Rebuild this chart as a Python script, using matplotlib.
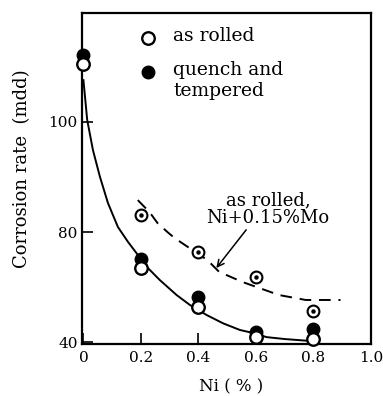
import numpy as np
import matplotlib
matplotlib.use('Agg')
import matplotlib.pyplot as plt

# ---- data ----
ni = [0.0, 0.2, 0.4, 0.6, 0.8]
as_rolled = [110.5, 66.9, 52.7, 41.8, 41.0]
quench_tempered = [112.2, 70.2, 56.4, 43.6, 44.7]
ni_mo = [0.2, 0.4, 0.6, 0.8]
as_rolled_mo = [83.1, 72.7, 63.6, 51.3]

fit_x = [0.0, 0.013, 0.033, 0.057, 0.085, 0.120, 0.155, 0.184, 0.214,
         0.266, 0.324, 0.370, 0.429, 0.486, 0.544, 0.590, 0.637, 0.700,
         0.776, 0.800]
fit_y = [107.6, 100.4, 94.9, 90.1, 85.3, 80.9, 76.4, 72.4, 68.0,
         62.5, 57.1, 53.5, 49.8, 46.8, 44.4, 43.3, 41.8, 41.1,
         40.5, 40.3]
mo_fit_x = [0.189, 0.230, 0.258, 0.292, 0.317, 0.431, 0.472, 0.554,
            0.680, 0.773, 0.894]
mo_fit_y = [85.8, 83.6, 81.6, 80.0, 77.8, 69.8, 65.5, 61.8,
            57.1, 55.3, 55.3]

xticks = [0, 0.2, 0.4, 0.6, 0.8, 1.0]
xticklabels = ['0', '0.2', '0.4', '0.6', '0.8', '1.0']
yticks = [40, 80, 100]
yticklabels = ['40', '80', '100']

legend_labels = ['as rolled', 'quench and', 'tempered']
note_lines = ['as rolled,', 'Ni+0.15%Mo']


# the printed axis is compressed below 80
def fwd(v):
    v = np.asarray(v, float)
    return np.where(v >= 80, v, 80 - (80 - v) / 2.0)


def inv(u):
    u = np.asarray(u, float)
    return np.where(u >= 80, u, 80 - (80 - u) * 2.0)


plt.rcParams['font.family'] = ['DejaVu Serif']
fig = plt.figure(figsize=(3.83, 3.96), dpi=100)
ax = fig.add_axes([82 / 383, 52 / 396, 289 / 383, 331 / 396])
ax.set_yscale('function', functions=(fwd, inv))
ax.set_xlim(-0.005, 1.0)
ax.set_ylim(39.3, 119.8)

for s in ax.spines.values():
    s.set_linewidth(1.6)

ax.set_xticks(xticks)
ax.set_xticklabels(xticklabels)
ax.set_yticks(yticks)
ax.set_yticklabels(yticklabels)
ax.yaxis.set_minor_locator(matplotlib.ticker.NullLocator())
ax.tick_params(direction='in', length=8, width=1.2, labelsize=11,
               colors='black')
ax.tick_params(axis='x', pad=5)
ax.tick_params(axis='y', pad=3)

# curves
ax.plot(fit_x, fit_y, color='black', lw=1.4, solid_joinstyle='round',
        zorder=2)
ax.plot(mo_fit_x, mo_fit_y, color='black', lw=1.4,
        linestyle=(0, (6, 4)), zorder=2)

# markers
ax.plot(ni, quench_tempered, 'o', color='black', ms=9, zorder=3,
        clip_on=False)
ax.plot(ni, as_rolled, 'o', mfc='white', mec='black', ms=9, mew=1.7,
        zorder=4, clip_on=False)
ax.plot(ni_mo, as_rolled_mo, 'o', mfc='white', mec='black', ms=8.5,
        mew=1.5, zorder=4)
ax.plot(ni_mo, as_rolled_mo, 'o', color='black', ms=2.2, zorder=5)

# arrow for the annotation
ax.annotate('', xy=(0.462, 66.9), xytext=(0.566, 80.4),
            arrowprops=dict(arrowstyle='->', lw=1.1, color='black',
                            mutation_scale=12, shrinkA=0, shrinkB=0))
ax.text(0.644, 0.435, note_lines[0], transform=ax.transAxes,
        ha='center', va='center', fontsize=13)
ax.text(0.644, 0.381, note_lines[1], transform=ax.transAxes,
        ha='center', va='center', fontsize=13)

# legend (drawn by hand to keep the marker on the first text line)
leg_mx = 0.228
leg_tx = 0.315
ax.plot([leg_mx], [0.924], 'o', mfc='white', mec='black', ms=9, mew=1.7,
        transform=ax.transAxes)
ax.plot([leg_mx], [0.822], 'o', color='black', ms=9,
        transform=ax.transAxes)
ax.text(leg_tx, 0.931, legend_labels[0], transform=ax.transAxes,
        ha='left', va='center', fontsize=13.5)
ax.text(leg_tx, 0.828, legend_labels[1], transform=ax.transAxes,
        ha='left', va='center', fontsize=13.5)
ax.text(leg_tx, 0.764, legend_labels[2], transform=ax.transAxes,
        ha='left', va='center', fontsize=13.5)

ax.set_ylabel('Corrosion rate  (mdd)', fontsize=13, va='center')
ax.yaxis.set_label_coords(-0.208, 0.53)
ax.set_xlabel('Ni ( % )', fontsize=12, va='center')
ax.xaxis.set_label_coords(0.516, -0.13)

fig.savefig('out.png', dpi=100)
